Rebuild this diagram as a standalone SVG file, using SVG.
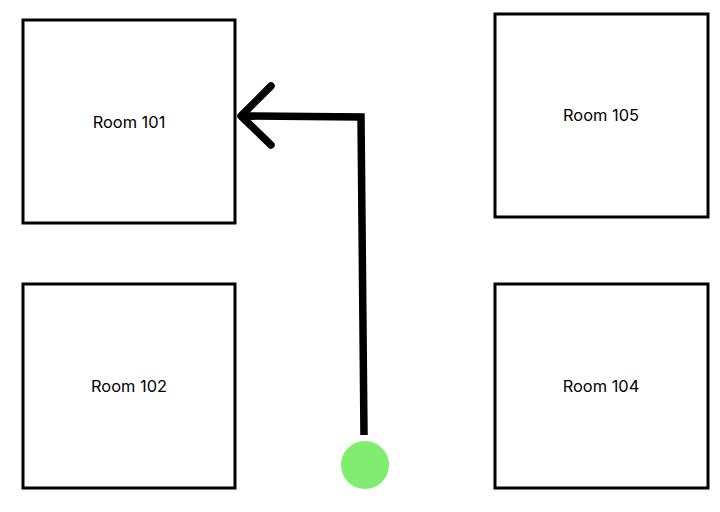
<svg xmlns="http://www.w3.org/2000/svg" width="720" height="512" viewBox="0 0 720 512">
<style>
.room rect{fill:#fff;stroke:#000;stroke-width:3}
.room text{font-family:Inter,"Liberation Sans",sans-serif;font-size:16.4px;fill:#000;text-anchor:middle}
.conn{fill:none;stroke:#000;stroke-width:7.5}
</style>
<rect width="720" height="512" fill="#fff"/>
<g id="room101" class="room"><rect x="23" y="20" width="212" height="203"/><text x="129" y="128">Room 101</text></g>
<g id="room105" class="room"><rect x="495" y="14" width="213" height="203"/><text x="601" y="121">Room 105</text></g>
<g id="room102" class="room"><rect x="23" y="284" width="212" height="204"/><text x="129" y="391.5">Room 102</text></g>
<g id="room104" class="room"><rect x="495" y="284" width="213" height="204"/><text x="601" y="391.5">Room 104</text></g>
<g id="start"><circle cx="365" cy="465" r="24" fill="#80ed71"/></g>
<g id="connectors">
<path class="conn" d="M364 435 L361 117 L241 116" stroke-linejoin="miter" stroke-linecap="butt"/>
<path class="conn" d="M271 86 L241 116 L271 145" stroke-linejoin="round" stroke-linecap="round"/>
</g>
</svg>
